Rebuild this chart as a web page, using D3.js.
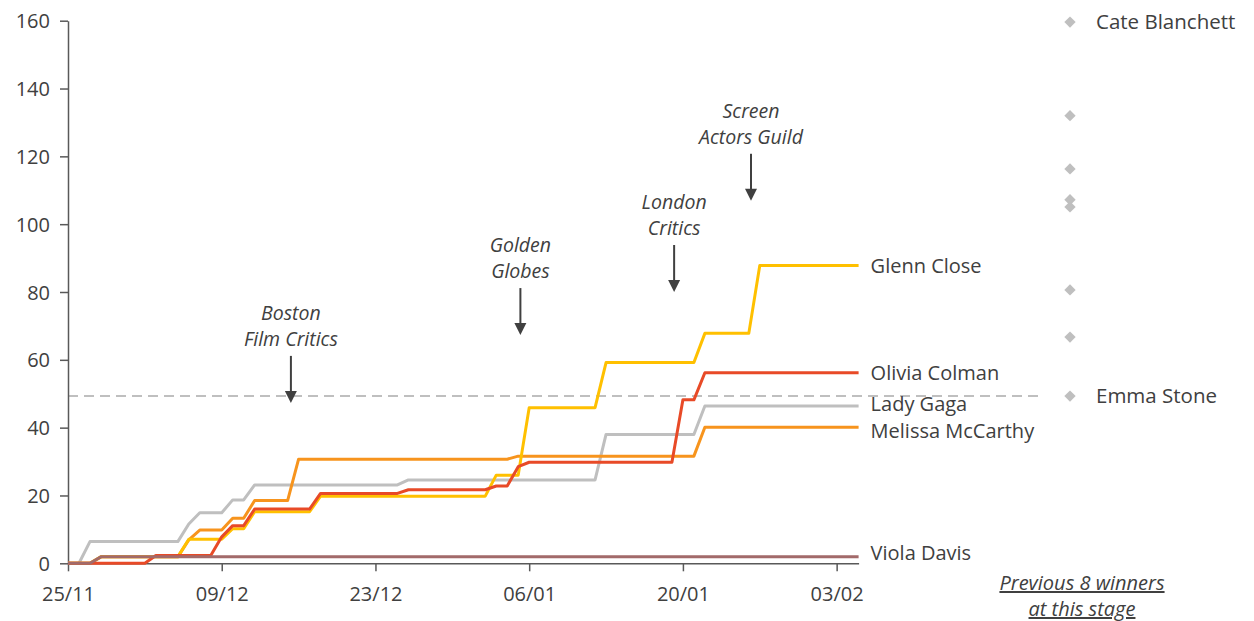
<!DOCTYPE html>
<html>
<head>
<meta charset="utf-8">
<style>
body { margin: 0; background: #fff; }
svg text { font-family: "Open Sans", sans-serif; fill: #404040; }
.axis path, .axis line { stroke: #595959; stroke-width: 1.5; }
.axis text { font-size: 20px; fill: #404040; }
</style>
</head>
<body>
<svg id="chart" width="1254" height="621"></svg>
<script src="https://cdn.jsdelivr.net/npm/d3@7"></script>
<script>

// day 0 = 25/11, day 72 = 05/02
var tickDays = [0, 14, 28, 42, 56, 70];
var tickLabels = ["25/11", "09/12", "23/12", "06/01", "20/01", "03/02"];
var yTicks = [0, 20, 40, 60, 80, 100, 120, 140, 160];

// cumulative points per day
var ladyGaga = [
  0, 0, 6.4, 6.4, 6.4, 6.4, 6.4, 6.4, 6.4, 6.4,
  6.4, 11.6, 14.9, 14.9, 14.9, 18.7, 18.7, 23.1, 23.1, 23.1,
  23.1, 23.1, 23.1, 23.1, 23.1, 23.1, 23.1, 23.1, 23.1, 23.1,
  23.1, 24.6, 24.6, 24.6, 24.6, 24.6, 24.6, 24.6, 24.6, 24.6,
  24.6, 24.6, 24.6, 24.6, 24.6, 24.6, 24.6, 24.6, 24.6, 38,
  38, 38, 38, 38, 38, 38, 38, 38, 46.4, 46.4,
  46.4, 46.4, 46.4, 46.4, 46.4, 46.4, 46.4, 46.4, 46.4, 46.4,
  46.4, 46.4, 46.4
];
var melissaMcCarthy = [
  0, 0, 0, 1.9, 1.9, 1.9, 1.9, 1.9, 1.9, 1.9,
  1.9, 6.9, 9.8, 9.8, 9.8, 13.3, 13.3, 18.5, 18.5, 18.5,
  18.5, 30.7, 30.7, 30.7, 30.7, 30.7, 30.7, 30.7, 30.7, 30.7,
  30.7, 30.7, 30.7, 30.7, 30.7, 30.7, 30.7, 30.7, 30.7, 30.7,
  30.7, 31.6, 31.6, 31.6, 31.6, 31.6, 31.6, 31.6, 31.6, 31.6,
  31.6, 31.6, 31.6, 31.6, 31.6, 31.6, 31.6, 31.6, 40.1, 40.1,
  40.1, 40.1, 40.1, 40.1, 40.1, 40.1, 40.1, 40.1, 40.1, 40.1,
  40.1, 40.1, 40.1
];
var glennClose = [
  0, 0, 0, 1.9, 1.9, 1.9, 1.9, 1.9, 1.9, 1.9,
  1.9, 7.1, 7.1, 7.1, 7.1, 10.2, 10.2, 15.2, 15.2, 15.2,
  15.2, 15.2, 15.2, 19.8, 19.8, 19.8, 19.8, 19.8, 19.8, 19.8,
  19.8, 19.8, 19.8, 19.8, 19.8, 19.8, 19.8, 19.8, 19.8, 26,
  26, 26, 45.9, 45.9, 45.9, 45.9, 45.9, 45.9, 45.9, 59.2,
  59.2, 59.2, 59.2, 59.2, 59.2, 59.2, 59.2, 59.2, 67.8, 67.8,
  67.8, 67.8, 67.8, 87.8, 87.8, 87.8, 87.8, 87.8, 87.8, 87.8,
  87.8, 87.8, 87.8
];
var oliviaColman = [
  0, 0, 0, 0, 0, 0, 0, 0, 2.3, 2.3,
  2.3, 2.3, 2.3, 2.3, 7.8, 11.1, 11.1, 16, 16, 16,
  16, 16, 16, 20.6, 20.6, 20.6, 20.6, 20.6, 20.6, 20.6,
  20.6, 21.7, 21.7, 21.7, 21.7, 21.7, 21.7, 21.7, 21.7, 22.8,
  22.8, 28.5, 29.8, 29.8, 29.8, 29.8, 29.8, 29.8, 29.8, 29.8,
  29.8, 29.8, 29.8, 29.8, 29.8, 29.8, 48.2, 48.2, 56.2, 56.2,
  56.2, 56.2, 56.2, 56.2, 56.2, 56.2, 56.2, 56.2, 56.2, 56.2,
  56.2, 56.2, 56.2
];
var violaDavis = [
  0, 0, 0, 1.9, 1.9, 1.9, 1.9, 1.9, 1.9, 1.9,
  1.9, 1.9, 1.9, 1.9, 1.9, 1.9, 1.9, 1.9, 1.9, 1.9,
  1.9, 1.9, 1.9, 1.9, 1.9, 1.9, 1.9, 1.9, 1.9, 1.9,
  1.9, 1.9, 1.9, 1.9, 1.9, 1.9, 1.9, 1.9, 1.9, 1.9,
  1.9, 1.9, 1.9, 1.9, 1.9, 1.9, 1.9, 1.9, 1.9, 1.9,
  1.9, 1.9, 1.9, 1.9, 1.9, 1.9, 1.9, 1.9, 1.9, 1.9,
  1.9, 1.9, 1.9, 1.9, 1.9, 1.9, 1.9, 1.9, 1.9, 1.9,
  1.9, 1.9, 1.9
];

// draw order: first is at the bottom
var seriesNames = ["Lady Gaga", "Melissa McCarthy", "Glenn Close", "Olivia Colman", "Viola Davis"];
var seriesValues = [ladyGaga, melissaMcCarthy, glennClose, oliviaColman, violaDavis];
var seriesColors = ["#bfbfbf", "#f7941d", "#ffc000", "#e84a27", "#a26a6a"];
var labelNudge = [-2, 4, 0, 0, -4];

var winnerValues = [159.6, 132, 116.3, 107.2, 105.1, 80.6, 66.7, 49.3];
var winnerNames = ["Cate Blanchett", "", "", "", "", "", "", "Emma Stone"];

var events = [
  { lines: ["Boston", "Film Critics"], day: 20.3, tip: 47.3 },
  { lines: ["Golden", "Globes"], day: 41.2, tip: 67.3 },
  { lines: ["London", "Critics"], day: 55.2, tip: 80 },
  { lines: ["Screen", "Actors Guild"], day: 62.2, tip: 106.9 }
];

var svg = d3.select("#chart");

var x = d3.scaleLinear().domain([0, 72]).range([68, 858.6]);
var y = d3.scaleLinear().domain([0, 160]).range([563.3, 20.7]);
var winnersX = 1070;

// dashed line at the lowest previous winner
var minWinner = d3.min(winnerValues);
svg.append("line")
  .attr("x1", x(0)).attr("x2", 1042)
  .attr("y1", y(minWinner)).attr("y2", y(minWinner))
  .attr("stroke", "#bfbfbf")
  .attr("stroke-width", 2)
  .attr("stroke-dasharray", "10,6");

// axes
svg.append("g")
  .attr("class", "axis")
  .attr("transform", "translate(" + x(0) + ",0)")
  .call(d3.axisLeft(y).tickValues(yTicks).tickSize(8).tickSizeOuter(0).tickPadding(10))
  .selectAll("text").attr("dy", "0.35em");

svg.append("g")
  .attr("class", "axis")
  .attr("transform", "translate(0," + y(0) + ")")
  .call(d3.axisBottom(x).tickValues(tickDays).tickSize(8).tickSizeOuter(0).tickPadding(16)
    .tickFormat(function(d, i) { return tickLabels[i]; }));

var line = d3.line()
  .x(function(d, i) { return x(i); })
  .y(function(d) { return y(d); });

seriesValues.forEach(function(vals, k) {
  svg.append("path")
    .datum(vals)
    .attr("d", line)
    .attr("fill", "none")
    .attr("stroke", seriesColors[k])
    .attr("stroke-width", 3)
    .attr("stroke-linejoin", "round");

  svg.append("text")
    .attr("x", x(vals.length - 1) + 12)
    .attr("y", y(vals[vals.length - 1]) + labelNudge[k])
    .attr("dy", "0.35em")
    .attr("font-size", 20)
    .text(seriesNames[k]);
});

// event annotations
events.forEach(function(e) {
  var ex = x(e.day), ty = y(e.tip);
  svg.append("line")
    .attr("x1", ex).attr("x2", ex)
    .attr("y1", ty - 47).attr("y2", ty - 10)
    .attr("stroke", "#404040").attr("stroke-width", 2);
  svg.append("path")
    .attr("d", "M" + (ex - 6) + "," + (ty - 12) + "L" + (ex + 6) + "," + (ty - 12) + "L" + ex + "," + ty + "Z")
    .attr("fill", "#404040");
  e.lines.forEach(function(t, j) {
    svg.append("text")
      .attr("x", ex)
      .attr("y", ty - 90 + j * 26)
      .attr("dy", "0.35em")
      .attr("text-anchor", "middle")
      .attr("font-style", "italic")
      .attr("font-size", 19.5)
      .text(t);
  });
});

// previous winners column (diamonds = squares turned 45 degrees)
var diamond = d3.symbol().type(d3.symbolSquare).size(64);
winnerValues.forEach(function(v, i) {
  svg.append("path")
    .attr("d", diamond)
    .attr("transform", "translate(" + winnersX + "," + y(v) + ") rotate(45)")
    .attr("fill", "#bfbfbf");
  if (winnerNames[i]) {
    svg.append("text")
      .attr("x", winnersX + 26)
      .attr("y", y(v))
      .attr("dy", "0.35em")
      .attr("font-size", 20.5)
      .text(winnerNames[i]);
  }
});

["Previous 8 winners", "at this stage"].forEach(function(t, j) {
  svg.append("text")
    .attr("x", 1082)
    .attr("y", 583 + j * 26)
    .attr("dy", "0.35em")
    .attr("text-anchor", "middle")
    .attr("font-style", "italic")
    .attr("font-size", 20)
    .attr("text-decoration", "underline")
    .text(t);
});

</script>
</body>
</html>
